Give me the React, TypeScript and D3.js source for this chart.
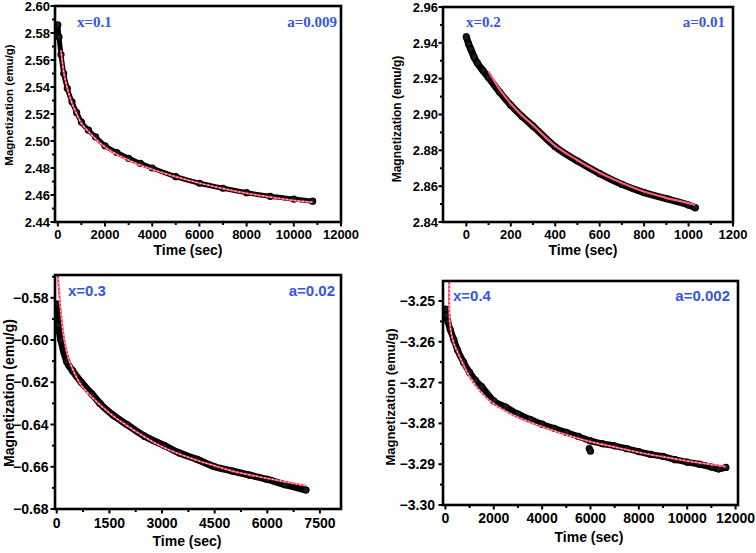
import React from "react";
import * as d3 from "d3";

// ---------- Data ----------
const p1Time = [0, 50, 135, 250, 400, 600, 800, 1000, 1300, 1600, 2000, 2500, 3000, 3500, 4000, 5000, 6000, 7000, 8000, 9000, 10000, 10800];
const p1Mag = [2.586, 2.577, 2.564, 2.55, 2.539, 2.529, 2.521, 2.514, 2.508, 2.503, 2.4965, 2.4915, 2.4872, 2.4835, 2.48, 2.4736, 2.4687, 2.465, 2.4617, 2.459, 2.457, 2.4554];
const p1FitTime = [135, 250, 400, 600, 800, 1000, 1300, 1600, 2000, 2500, 3000, 3500, 4000, 5000, 6000, 7000, 8000, 9000, 10000, 10800];
const p1FitMag = [2.567, 2.551, 2.539, 2.528, 2.52, 2.513, 2.507, 2.5015, 2.4955, 2.49, 2.4858, 2.482, 2.479, 2.4735, 2.4688, 2.4648, 2.4613, 2.4585, 2.456, 2.4547];

const p2Time = [0, 10, 20, 35, 50, 75, 100, 150, 200, 250, 300, 400, 500, 600, 700, 800, 900, 1000, 1030];
const p2Mag = [2.9434, 2.9395, 2.9365, 2.932, 2.9287, 2.9245, 2.9206, 2.9125, 2.9052, 2.899, 2.8935, 2.882, 2.874, 2.867, 2.861, 2.8564, 2.853, 2.8495, 2.848];
const p2FitTime = [100, 150, 200, 250, 300, 400, 500, 600, 700, 800, 900, 1000, 1030];
const p2FitMag = [2.924, 2.914, 2.906, 2.8995, 2.894, 2.8825, 2.8745, 2.8675, 2.8618, 2.857, 2.8535, 2.8505, 2.8495];

const p3Time = [0, 50, 120, 280, 450, 700, 1000, 1230, 1600, 2000, 2500, 3077, 3500, 4000, 4500, 5000, 5500, 6000, 6500, 7100];
const p3Mag = [-0.583, -0.593, -0.6, -0.61, -0.6145, -0.62, -0.6255, -0.63, -0.6355, -0.64, -0.6455, -0.65, -0.6535, -0.6565, -0.66, -0.662, -0.664, -0.666, -0.6685, -0.671];
const p3FitTime = [30, 100, 200, 330, 500, 700, 1000, 1500, 2000, 3000, 4000, 4500, 5000, 6000, 7100];
const p3FitMag = [-0.569, -0.584, -0.5985, -0.6085, -0.6155, -0.6215, -0.627, -0.6345, -0.6405, -0.6505, -0.657, -0.6595, -0.662, -0.6655, -0.669];

const p4Time = [0, 50, 100, 200, 350, 500, 750, 1000, 1250, 1500, 2000, 2500, 3000, 3500, 4000, 4500, 5000, 5500, 6000, 6500, 7000, 7500, 8000, 8500, 9000, 9500, 10000, 10500, 11000, 11300, 11600];
const p4Mag = [-3.252, -3.2535, -3.255, -3.257, -3.2595, -3.262, -3.265, -3.2675, -3.2695, -3.271, -3.2745, -3.276, -3.2777, -3.279, -3.2802, -3.2812, -3.2822, -3.2832, -3.2843, -3.285, -3.2855, -3.2862, -3.2869, -3.2876, -3.2881, -3.2889, -3.2895, -3.29, -3.2907, -3.2912, -3.2908];
const p4OutlierTime = [5950, 6000];
const p4OutlierMag = [-3.2862, -3.2868];
const p4FitTime = [160, 175, 300, 500, 1000, 1500, 2000, 3000, 4000, 5000, 6000, 7000, 8000, 9000, 10000, 11000, 11600];
const p4FitMag = [-3.245, -3.2545, -3.2595, -3.2625, -3.2685, -3.2725, -3.2752, -3.2785, -3.2808, -3.2828, -3.2845, -3.2858, -3.2871, -3.2882, -3.2892, -3.2901, -3.2906];

const compLabels = ["x=0.1", "x=0.2", "x=0.3", "x=0.4"];
const alphaLabels = ["a=0.009", "a=0.01", "a=0.02", "a=0.002"];

const p1XTicks = [0, 2000, 4000, 6000, 8000, 10000, 12000];
const p2XTicks = [0, 200, 400, 600, 800, 1000, 1200];
const p3XTicks = [0, 1500, 3000, 4500, 6000, 7500];
const p4XTicks = [0, 2000, 4000, 6000, 8000, 10000, 12000];
const p1YTicks = [2.44, 2.46, 2.48, 2.5, 2.52, 2.54, 2.56, 2.58, 2.6];
const p2YTicks = [2.84, 2.86, 2.88, 2.9, 2.92, 2.94, 2.96];
const p3YTicks = [-0.68, -0.66, -0.64, -0.62, -0.6, -0.58];
const p4YTicks = [-3.3, -3.29, -3.28, -3.27, -3.26, -3.25];

const BLUE = "#3456e0";

type PanelCfg = {
  time: number[]; mag: number[]; fitTime: number[]; fitMag: number[];
  extraTime: number[]; extraMag: number[];
  xDomain: [number, number]; yDomain: [number, number];
  frame: { l: number; t: number; r: number; b: number };
  xTicks: number[]; xMinorStep: number; yTicks: number[]; yMinorStep: number;
  comp: string; alpha: string; serifNotes: boolean; dotted: boolean;
  font: number; yLabX: number; yLabY: number; xLabX: number; xLabY: number;
  yTickGap: number; xTickBase: number; noteY: number; noteL: number; noteR: number;
  yLabSize: number; band: number;
};

const panels: PanelCfg[] = [
  {
    time: p1Time, mag: p1Mag, fitTime: p1FitTime, fitMag: p1FitMag, extraTime: [], extraMag: [],
    xDomain: [-120, 12000], yDomain: [2.44, 2.6], frame: { l: 55, t: 6, r: 341, b: 222 },
    xTicks: p1XTicks, xMinorStep: 1000, yTicks: p1YTicks, yMinorStep: 0.01,
    comp: compLabels[0], alpha: alphaLabels[0], serifNotes: true, dotted: true,
    font: 13, yLabX: 13, yLabY: 105, xLabX: 188, xLabY: 255, yTickGap: 5, xTickBase: 17,
    noteY: 27, noteL: 77, noteR: 337, yLabSize: 11.5, band: 5,
  },
  {
    time: p2Time, mag: p2Mag, fitTime: p2FitTime, fitMag: p2FitMag, extraTime: [], extraMag: [],
    xDomain: [-105, 1200], yDomain: [2.84, 2.96], frame: { l: 443, t: 7, r: 733, b: 222 },
    xTicks: p2XTicks, xMinorStep: 100, yTicks: p2YTicks, yMinorStep: 0.01,
    comp: compLabels[1], alpha: alphaLabels[1], serifNotes: true, dotted: false,
    font: 13, yLabX: 401, yLabY: 119, xLabX: 583, xLabY: 255, yTickGap: 5, xTickBase: 17,
    noteY: 27, noteL: 466, noteR: 725, yLabSize: 12, band: 7,
  },
  {
    time: p3Time, mag: p3Mag, fitTime: p3FitTime, fitMag: p3FitMag, extraTime: [], extraMag: [],
    xDomain: [-50, 8100], yDomain: [-0.68, -0.5692], frame: { l: 55, t: 275, r: 341, b: 509 },
    xTicks: p3XTicks, xMinorStep: 750, yTicks: p3YTicks, yMinorStep: 0.01,
    comp: compLabels[2], alpha: alphaLabels[2], serifNotes: false, dotted: true,
    font: 14, yLabX: 14, yLabY: 393, xLabX: 187, xLabY: 546, yTickGap: 6.5, xTickBase: 19,
    noteY: 296, noteL: 68, noteR: 335, yLabSize: 14, band: 7,
  },
  {
    time: p4Time, mag: p4Mag, fitTime: p4FitTime, fitMag: p4FitMag, extraTime: p4OutlierTime, extraMag: p4OutlierMag,
    xDomain: [-100, 12100], yDomain: [-3.3, -3.2451], frame: { l: 443, t: 281, r: 738, b: 505 },
    xTicks: p4XTicks, xMinorStep: 1000, yTicks: p4YTicks, yMinorStep: 0.005,
    comp: compLabels[3], alpha: alphaLabels[3], serifNotes: false, dotted: true,
    font: 14, yLabX: 395, yLabY: 397, xLabX: 589, xLabY: 542, yTickGap: 8, xTickBase: 18,
    noteY: 301, noteL: 453, noteR: 730, yLabSize: 13, band: 6.5,
  },
];

const SANS = "'Liberation Sans', Arial, sans-serif";
const SERIF = "'Liberation Serif', 'Times New Roman', serif";

function Panel({ c, idx }: { c: PanelCfg; idx: number }) {
  const { l, t, r, b } = c.frame;
  const x = d3.scaleLinear().domain(c.xDomain).range([l, r]);
  const y = d3.scaleLinear().domain(c.yDomain).range([b, t]);
  const pts = c.time.map((tt, i) => [tt, c.mag[i]] as [number, number]);
  const extra = c.extraTime.map((tt, i) => [tt, c.extraMag[i]] as [number, number]);
  const fit = c.fitTime.map((tt, i) => [tt, c.fitMag[i]] as [number, number]);
  const line = d3.line<[number, number]>().x((d) => x(d[0])).y((d) => y(d[1])).curve(d3.curveMonotoneX);
  const fitLine = d3.line<[number, number]>().x((d) => x(d[0])).y((d) => y(d[1])).curve(d3.curveCatmullRom);
  const xMinor = d3.range(c.xTicks[0], c.xTicks[c.xTicks.length - 1] + 1e-9, c.xMinorStep)
    .filter((v) => v >= c.xDomain[0] && v <= c.xDomain[1]);
  const yMinor = d3.range(0, Math.round((c.yDomain[1] - c.yTicks[0]) / c.yMinorStep) + 1)
    .map((k) => c.yTicks[0] + k * c.yMinorStep)
    .filter((v) => v <= c.yDomain[1] + 1e-9);
  const isMajorY = (v: number) => c.yTicks.some((m) => Math.abs(m - v) < 1e-7);
  const isMajorX = (v: number) => c.xTicks.some((m) => Math.abs(m - v) < 1e-7);
  const fmtY = d3.format(".2f");
  const clipId = `clip${idx}`;
  return (
    <g>
      <defs>
        <clipPath id={clipId}>
          <rect x={l} y={t} width={r - l} height={b - t} />
        </clipPath>
      </defs>
      <g clipPath={`url(#${clipId})`}>
        <path d={line(pts) || ""} fill="none" stroke="#000" strokeWidth={c.band} strokeLinecap="round" />
        {pts.concat(extra).map((p, i) => (
          <circle key={i} cx={x(p[0])} cy={y(p[1])} r={3} fill="#1a1a1a" stroke="#000" strokeWidth={1.2} />
        ))}
        <path d={fitLine(fit) || ""} fill="none" stroke={c.dotted ? "#ff3a5c" : "#ff5a72"} strokeWidth={c.dotted ? 2 : 2.2} />
        {c.dotted && (
          <path d={fitLine(fit) || ""} fill="none" stroke="#ffe6ea" strokeWidth={1.1} strokeDasharray="0.8 3.2" strokeLinecap="round" />
        )}
      </g>
      {xMinor.map((v, i) => (
        <line key={"xm" + i} x1={x(v)} x2={x(v)} y1={b} y2={b + (isMajorX(v) ? 4.5 : 3)} stroke="#000" strokeWidth={2} />
      ))}
      {yMinor.map((v, i) => (
        <line key={"ym" + i} x1={l} x2={l - (isMajorY(v) ? 4.5 : 3)} y1={y(v)} y2={y(v)} stroke="#000" strokeWidth={2} />
      ))}
      <rect x={l} y={t} width={r - l} height={b - t} fill="none" stroke="#000" strokeWidth={2.6} />
      {c.xTicks.map((v, i) => (
        <text key={"xt" + i} x={x(v)} y={b + c.xTickBase} textAnchor="middle" fontFamily={SANS} fontWeight="bold" fontSize={c.font}>{v}</text>
      ))}
      {c.yTicks.map((v, i) => (
        <text key={"yt" + i} x={l - c.yTickGap} y={y(v)} dy="0.36em" textAnchor="end" fontFamily={SANS} fontWeight="bold" fontSize={c.font}>{fmtY(v)}</text>
      ))}
      <text x={c.xLabX} y={c.xLabY} textAnchor="middle" fontFamily={SANS} fontWeight="bold" fontSize={14}>Time (sec)</text>
      <text transform={`translate(${c.yLabX},${c.yLabY}) rotate(-90)`} textAnchor="middle" fontFamily={SANS} fontWeight="bold" fontSize={c.yLabSize}>Magnetization (emu/g)</text>
      <text x={c.noteL} y={c.noteY} fill={BLUE} fontFamily={c.serifNotes ? SERIF : SANS} fontWeight="bold" fontSize={15}>{c.comp}</text>
      <text x={c.noteR} y={c.noteY} textAnchor="end" fill={BLUE} fontFamily={c.serifNotes ? SERIF : SANS} fontWeight="bold" fontSize={15}>{c.alpha}</text>
    </g>
  );
}

export default function App() {
  return (
    <svg width={756} height={553} style={{ position: "absolute", left: 0, top: 0, background: "#fff" }}>
      <rect x={0} y={0} width={756} height={553} fill="#fff" />
      {panels.map((c, i) => (
        <Panel key={i} c={c} idx={i} />
      ))}
    </svg>
  );
}
